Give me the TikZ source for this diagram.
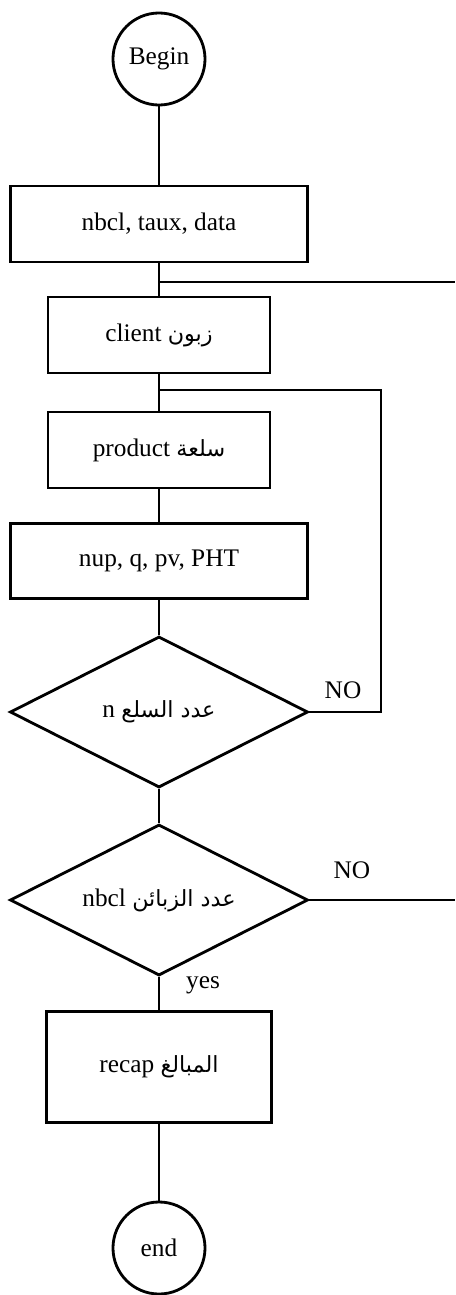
\documentclass[tikz,border=0pt]{standalone}
\usepackage{fontspec}
\setmainfont{Liberation Serif}
\newfontfamily\arabicfont[Script=Arabic,Scale=0.88]{DejaVu Sans}
\TeXXeTstate=1
\usetikzlibrary{shapes.geometric}

\begin{document}
\begin{tikzpicture}[x=0.025cm, y=-0.025cm, line width=2pt,
  term/.style={circle, draw, minimum size=2.3cm, inner sep=0pt, font=\fontsize{18}{21}\selectfont},
  proc/.style={rectangle, draw, minimum width=5.55cm, minimum height=1.9cm, font=\fontsize{18}{21}\selectfont},
  wide/.style={proc, minimum width=7.425cm},
  cond/.style={diamond, draw, aspect=2, inner sep=0pt, minimum width=7.45cm,
               minimum height=3.775cm, font=\fontsize{18}{21}\selectfont},
  lbl/.style={font=\fontsize{18}{21}\selectfont},
]
  \useasboundingbox (0,0) rectangle (455,1295);

  \node[term] (start) at (159,59) {Begin};
  \node[wide] (input) at (159,224) {nbcl, taux, data};
  \node[proc] (client) at (159,335) {\beginR{\arabicfont زبون} client\endR};
  \node[proc] (product) at (159,450) {\beginR{\arabicfont سلعة} product\endR};
  \node[wide, minimum height=1.875cm] (calc) at (159,561) {nup, q, pv, PHT};
  \node[cond] (nitems) at (159,712) {\beginR{\arabicfont عدد السلع} n\endR};
  \node[cond] (nclients) at (159,900) {\beginR{\arabicfont عدد الزبائن} nbcl\endR};
  \node[proc, minimum width=5.625cm, minimum height=2.775cm] (recap) at (159,1067)
    {\beginR{\arabicfont المبالغ} recap\endR};
  \node[term] (stop) at (159,1248) {end};

  \node[lbl] (no1) at (343,690) {NO};
  \node[lbl] (no2) at (352,870) {NO};
  \node[lbl] (yes) at (203,985) {yes};

  % trunk
  \draw (start) -- (input);
  \draw (input) -- (client);
  \draw (client) -- (product);
  \draw (product) -- (calc);
  \draw (calc) -- (nitems);
  \draw (nitems) -- (nclients);
  \draw (nclients) -- (recap);
  \draw (recap) -- (stop);

  % loops
  \coordinate (j1) at (159,282);
  \coordinate (o1) at (455,282);
  \coordinate (j2) at (159,390);
  \coordinate (r1) at (381,712);
  \coordinate (r2) at (381,390);
  \coordinate (o2) at (455,900);
  \draw (j1) -- (o1);
  \draw (nitems.east) -- (r1) -- (r2) -- (j2);
  \draw (nclients.east) -- (o2);
\end{tikzpicture}
\end{document}
